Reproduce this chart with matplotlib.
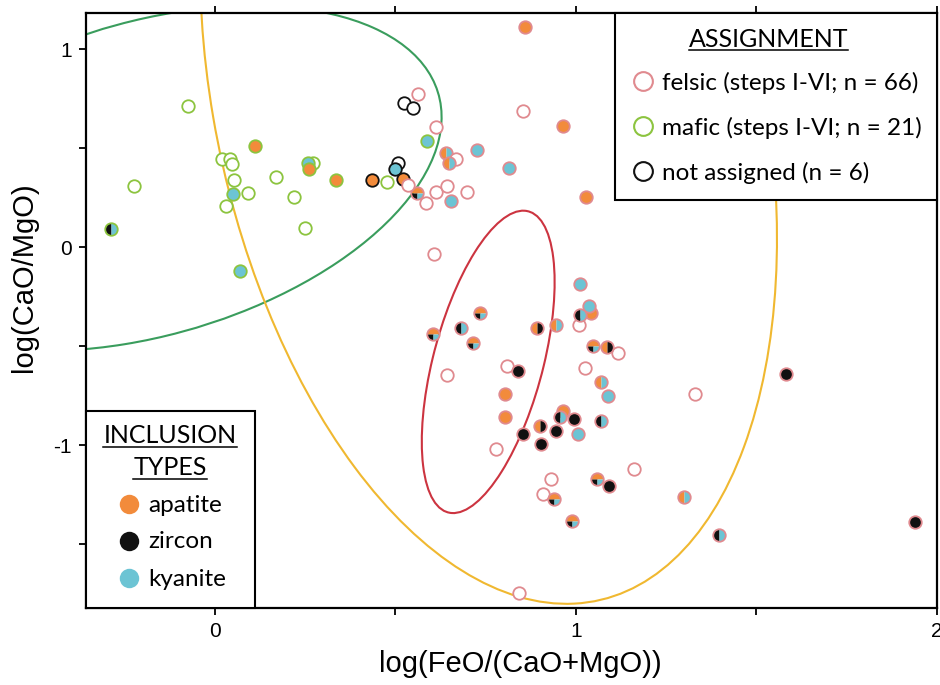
import numpy as np
import matplotlib.pyplot as plt
from matplotlib.patches import Ellipse, Rectangle
from matplotlib.path import Path
from matplotlib.lines import Line2D

plt.rcParams['axes.unicode_minus'] = False

# felsic (steps I-VI)
felsic_x = [0.563, 0.612, 0.559, 0.536, 0.584, 0.612, 0.642, 0.697, 0.653, 0.639,
            0.669, 0.649, 0.725, 0.814, 0.854, 0.859, 0.965, 1.028, 0.607, 0.642,
            0.603, 0.683, 0.734, 0.716, 0.808, 0.840, 0.804, 0.804, 0.891, 0.946,
            1.011, 1.043, 1.037, 1.009, 1.011, 1.048, 1.117, 1.087, 1.025, 1.069,
            1.090, 0.963, 0.956, 0.994, 1.070, 1.006, 0.900, 0.946, 0.852, 0.903,
            0.778, 0.931, 0.909, 0.940, 1.059, 1.091, 1.161, 0.990, 0.842, 1.330,
            1.581, 1.299, 1.396, 1.939]
felsic_y = [0.771, 0.605, 0.271, 0.313, 0.220, 0.276, 0.310, 0.276, 0.232, 0.476,
            0.443, 0.423, 0.490, 0.400, 0.687, 1.113, 0.613, 0.254, -0.037, -0.646,
            -0.439, -0.411, -0.335, -0.483, -0.601, -0.626, -0.742, -0.857, -0.411, -0.394,
            -0.187, -0.332, -0.296, -0.394, -0.343, -0.500, -0.534, -0.507, -0.613, -0.680,
            -0.753, -0.827, -0.857, -0.870, -0.879, -0.944, -0.902, -0.928, -0.944, -0.995,
            -1.020, -1.173, -1.247, -1.274, -1.173, -1.205, -1.123, -1.382, -1.749, -0.744,
            -0.643, -1.261, -1.455, -1.387]
felsic_inc = ['', '', 'AZK', '', '', '', '', '', 'K', 'AK',
              '', 'AK', 'K', 'K', '', 'A', 'A', 'A', '', '',
              'AZK', 'ZK', 'AZK', 'AZK', '', 'Z', 'A', 'A', 'AZ', 'AK',
              'K', 'A', 'K', '', 'ZK', 'AZK', '', 'AZ', '', 'AK',
              'K', 'A', 'ZK', 'Z', 'ZK', 'K', 'AZ', 'Z', 'Z', 'Z',
              '', '', '', 'AZK', 'AZK', 'Z', '', 'AZK', '', '',
              'Z', 'AK', 'ZK', 'Z']

# mafic (steps I-VI)
mafic_x = [-0.074, -0.224, -0.288, 0.019, 0.042, 0.048, 0.053, 0.051, 0.092, 0.032,
           0.069, 0.111, 0.169, 0.219, 0.250, 0.272, 0.259, 0.261, 0.335, 0.476, 0.588]
mafic_y = [0.714, 0.310, 0.092, 0.443, 0.443, 0.418, 0.338, 0.266, 0.271, 0.209,
           -0.120, 0.512, 0.352, 0.254, 0.094, 0.423, 0.423, 0.392, 0.338, 0.327, 0.535]
mafic_inc = ['', '', 'ZK', '', '', '', '', 'K', '', '',
             'K', 'A', '', '', '', '', 'K', 'A', 'A', '', 'K']

# not assigned
na_x = [0.506, 0.499, 0.436, 0.520, 0.524, 0.549]
na_y = [0.423, 0.394, 0.338, 0.342, 0.729, 0.700]
na_inc = ['', 'K', 'A', 'A', '', '']

# ellipses: mafic, felsic, all
ell_cx = [-0.181, 0.757, 0.758]
ell_cy = [0.347, -0.580, 0.727]
ell_w = [1.962, 1.540, 5.078]
ell_h = [1.343, 0.310, 1.532]
ell_angle = [50.9, 82.45, 95.37]
ell_colors = ['#3a9d5d', '#cc3440', '#f0b830']

inc_colors = {'A': '#f28b3b', 'Z': '#111111', 'K': '#6cc4d4'}
group_edges = {'felsic': '#e08a8f', 'mafic': '#8cc43f', 'na': '#111111'}

# wedge angles for each inclusion combination
wedges = {
    'A': [('A', None)], 'Z': [('Z', None)], 'K': [('K', None)],
    'AZ': [('A', (90, 270)), ('Z', (-90, 90))],
    'AK': [('A', (90, 270)), ('K', (-90, 90))],
    'ZK': [('Z', (90, 270)), ('K', (-90, 90))],
    'AZK': [('A', (0, 180)), ('Z', (180, 270)), ('K', (270, 360))],
}

W, H = 940, 685


def fx(px):
    return px / W


def fy(py):
    return 1 - py / H


fig = plt.figure(figsize=(W / 100, H / 100), dpi=100)
ax = fig.add_axes([fx(86), fy(608), (937 - 86) / W, (608 - 13) / H])

for cx, cy, w, h, a, c in zip(ell_cx, ell_cy, ell_w, ell_h, ell_angle, ell_colors):
    ax.add_patch(Ellipse((cx, cy), w, h, angle=a, fill=False, ec=c, lw=1.5, zorder=2))

ms = 9.0
z = 3.0
for xs, ys, incs, grp in [(mafic_x, mafic_y, mafic_inc, 'mafic'),
                          (na_x, na_y, na_inc, 'na'),
                          (felsic_x, felsic_y, felsic_inc, 'felsic')]:
    for x, y, inc in zip(xs, ys, incs):
        if inc:
            for key, ang in wedges[inc]:
                m = 'o' if ang is None else Path.wedge(*ang)
                ax.plot(x, y, marker=m, ms=ms, mfc=inc_colors[key], mew=0,
                        ls='none', zorder=z)
        ax.plot(x, y, 'o', ms=ms, mfc='white' if not inc else 'none',
                mec=group_edges[grp], mew=1.3, ls='none', zorder=z + 0.001)
        z += 0.002

ax.set_xlim(-0.357, 2.0)
ax.set_ylim(-1.823, 1.182)
ax.set_xticks([0, 1, 2])
ax.set_xticks([0.5, 1.5], minor=True)
ax.set_yticks([-1, 0, 1])
ax.set_yticks([-1.5, -0.5, 0.5], minor=True)
ax.tick_params(which='both', direction='out', length=5, width=1.3,
               top=True, labelsize=15, pad=5)
for s in ax.spines.values():
    s.set_linewidth(1.6)
for lab in ax.get_xticklabels() + ax.get_yticklabels():
    lab.set_family('Liberation Sans')

ax.set_xlabel('log(FeO/(CaO+MgO))', fontsize=21, family='Liberation Sans')
ax.set_ylabel('log(CaO/MgO)', fontsize=21, family='Liberation Sans')
ax.xaxis.set_label_coords((520 - 86) / 851, (608 - 650) / 595)
ax.yaxis.set_label_coords((38 - 86) / 851, (608 - 277) / 595)

# legend boxes
lfont = dict(family='Lato', fontsize=17.5)
fig.add_artist(Rectangle((fx(615), fy(200)), (937 - 615) / W, (200 - 13) / H,
                         transform=fig.transFigure, fc='white', ec='black', lw=1.5))
fig.add_artist(Rectangle((fx(86), fy(608)), (255 - 86) / W, (608 - 411) / H,
                         transform=fig.transFigure, fc='white', ec='black', lw=1.5))

titles = [fig.text(fx(768.5), fy(46.7), 'ASSIGNMENT', ha='center', va='baseline',
                   family='Lato', fontsize=18),
          fig.text(fx(170), fy(443.3), 'INCLUSION', ha='center', va='baseline',
                   family='Lato', fontsize=18),
          fig.text(fx(170), fy(475), 'TYPES', ha='center', va='baseline',
                   family='Lato', fontsize=18)]

assign_labels = ['felsic (steps I-VI; n = 66)', 'mafic (steps I-VI; n = 21)',
                 'not assigned (n = 6)']
assign_keys = ['felsic', 'mafic', 'na']
for i, (lab, k) in enumerate(zip(assign_labels, assign_keys)):
    fig.add_artist(Line2D([fx(643)], [fy(81 + 45 * i)], marker='o', ms=13.5, mfc='white',
                          mec=group_edges[k], mew=1.5, ls='none', transform=fig.transFigure))
    fig.text(fx(662), fy(90 + 45 * i), lab, ha='left', va='baseline', **lfont)

inc_labels = ['apatite', 'zircon', 'kyanite']
for i, (lab, k) in enumerate(zip(inc_labels, ['A', 'Z', 'K'])):
    fig.add_artist(Line2D([fx(129.3)], [fy(504.3 + 37 * i)], marker='o', ms=14, mfc=inc_colors[k],
                          mew=0, ls='none', transform=fig.transFigure))
    fig.text(fx(148), fy(511.5 + 37 * i), lab, ha='left', va='baseline', **lfont)

# underline the legend titles
fig.canvas.draw()
r = fig.canvas.get_renderer()
for t in titles:
    bb = t.get_window_extent(r)
    x0, x1 = bb.x0 / W, bb.x1 / W
    yb = t.get_position()[1]
    fig.add_artist(Line2D([x0, x1], [yb - 3.5 / H] * 2, color='black', lw=1.1,
                          transform=fig.transFigure))

plt.savefig('out.png', dpi=100)
